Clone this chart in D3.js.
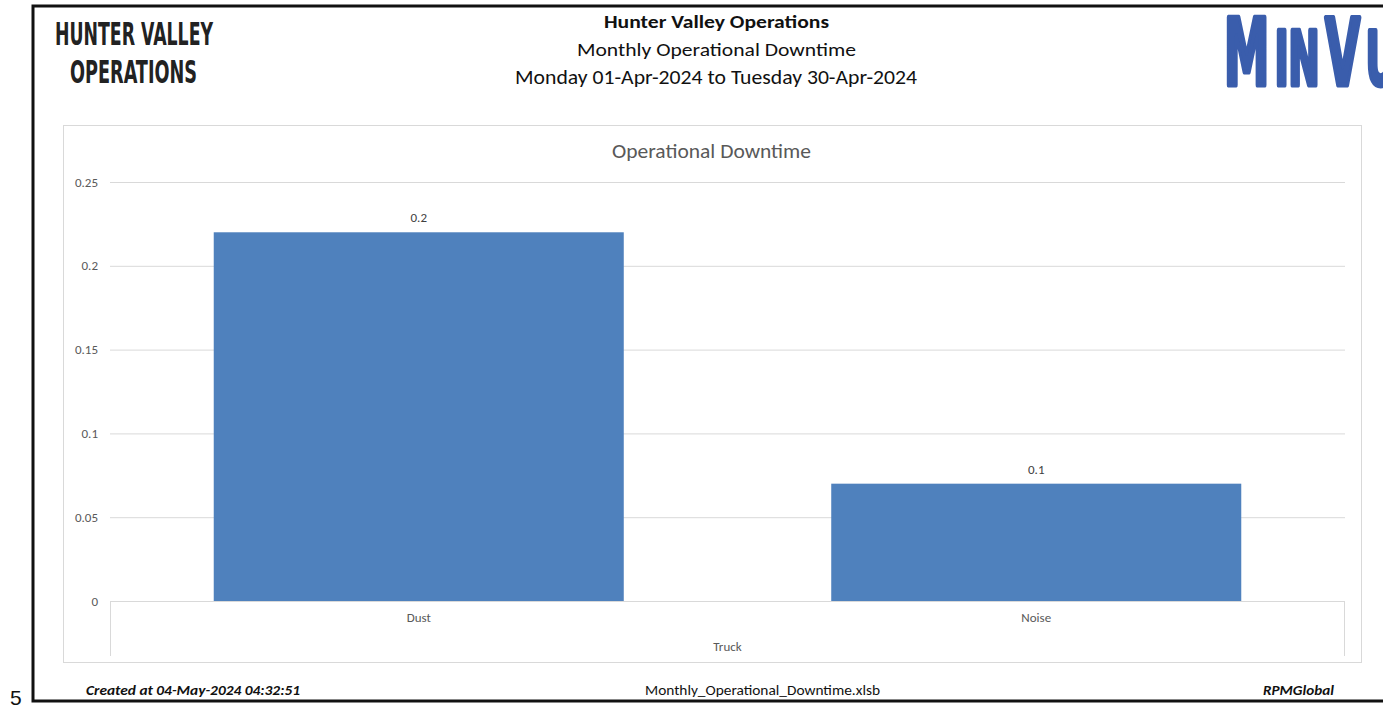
<!DOCTYPE html>
<html>
<head>
<meta charset="utf-8">
<script src="https://cdn.jsdelivr.net/npm/d3@7"></script>
<style>
  body { margin: 0; background: #fff; }
  svg { display: block; }
</style>
</head>
<body>
<div id="chart"></div>
<script>
// data
const categories = ["Dust", "Noise"];
const values = [0.22, 0.07];
const barLabels = ["0.2", "0.1"];
const groupLabel = "Truck";
const yTicks = [0, 0.05, 0.1, 0.15, 0.2, 0.25];
const yTickLabels = ["0", "0.05", "0.1", "0.15", "0.2", "0.25"];

const W = 1383, H = 706;
const font = "Carlito, Lato, 'Open Sans', sans-serif";
const narrow = "'Liberation Sans Narrow', 'DejaVu Sans Condensed', 'Liberation Sans', sans-serif";

const svg = d3.select("#chart").append("svg")
    .attr("width", W)
    .attr("height", H);

// helper: text squeezed/stretched to the width seen in the report
function fitText(parent, str, x, y, size, len) {
    return parent.append("text").text(str)
        .attr("x", x).attr("y", y)
        .attr("font-size", size)
        .attr("textLength", len)
        .attr("lengthAdjust", "spacingAndGlyphs");
}

// report frame (right side runs off the page)
svg.append("path")
    .attr("d", "M1390,6 L33,6 L33,701 L1390,701")
    .attr("fill", "none")
    .attr("stroke", "#111")
    .attr("stroke-width", 3);

svg.append("text").text("5")
    .attr("x", 10).attr("y", 705)
    .attr("font-family", "'Liberation Sans', Arial, sans-serif")
    .attr("font-size", 21).attr("fill", "#111");

// left logo text
const logo = svg.append("g")
    .attr("font-family", narrow)
    .attr("font-weight", "bold")
    .attr("fill", "#222");
fitText(logo, "HUNTER VALLEY", 55, 45, 32, 158);
fitText(logo, "OPERATIONS", 70, 83, 32, 127);

// MinVu logo: one text, squeezed horizontally, runs off the page edge
const mvG = svg.append("g");
const mv = mvG.append("text")
    .attr("x", 0).attr("y", 0)
    .attr("font-family", narrow)
    .attr("font-weight", "bold")
    .attr("fill", "#3a5dac")
    .attr("stroke", "#3a5dac")
    .attr("stroke-width", 5)
    .attr("stroke-linejoin", "round");
mv.append("tspan").text("M").attr("font-size", 92);
mv.append("tspan").text("IN").attr("font-size", 75).attr("dx", 10);
mv.append("tspan").text("V").attr("font-size", 92).attr("dx", 10);
mv.append("tspan").text("U").attr("font-size", 75).attr("dx", 10);
const mvLen = mv.node().getComputedTextLength() + 30;
mvG.attr("transform", "translate(1224,85) scale(" + (172 / mvLen) + ",1)");

// header titles
const head = svg.append("g")
    .attr("font-family", font)
    .attr("fill", "#111");
fitText(head, "Hunter Valley Operations", 604, 28, 19, 225).attr("font-weight", "bold");
fitText(head, "Monthly Operational Downtime", 577, 56, 19, 279);
fitText(head, "Monday 01-Apr-2024 to Tuesday 30-Apr-2024", 515, 84, 19.5, 402);

// chart box
svg.append("rect")
    .attr("x", 63.5).attr("y", 125.5)
    .attr("width", 1298).attr("height", 537)
    .attr("fill", "#fff")
    .attr("stroke", "#d9d9d9");

fitText(svg, "Operational Downtime", 612, 158, 20, 199)
    .attr("font-family", font)
    .attr("fill", "#595959");

// plot area
const plot = {left: 110, right: 1345, top: 182, bottom: 601};

const x = d3.scaleBand()
    .domain(categories)
    .range([plot.left, plot.right])
    .paddingInner(0.336)
    .paddingOuter(0.168);

const y = d3.scaleLinear()
    .domain([0, 0.25])
    .range([plot.bottom, plot.top]);

// gridlines + tick labels
const yAxis = d3.axisLeft(y)
    .tickValues(yTicks)
    .tickFormat((d, i) => yTickLabels[i])
    .tickSize(-(plot.right - plot.left))
    .tickPadding(12);

const gy = svg.append("g")
    .attr("transform", "translate(" + plot.left + ",0)")
    .call(yAxis);
gy.select(".domain").remove();
gy.selectAll(".tick line").attr("stroke", "#d9d9d9");
gy.selectAll(".tick text")
    .attr("font-family", font)
    .attr("font-size", 13)
    .attr("fill", "#595959");

// bars
svg.selectAll(".bar")
    .data(values).enter()
    .append("rect")
    .attr("class", "bar")
    .attr("x", (d, i) => x(categories[i]))
    .attr("y", d => y(d))
    .attr("width", x.bandwidth())
    .attr("height", d => y(0) - y(d))
    .attr("fill", "#4f81bd");

svg.selectAll(".bar-label")
    .data(values).enter()
    .append("text")
    .attr("class", "bar-label")
    .attr("x", (d, i) => x(categories[i]) + x.bandwidth() / 2)
    .attr("y", d => y(d) - 10)
    .attr("text-anchor", "middle")
    .attr("font-family", font)
    .attr("font-size", 13)
    .attr("fill", "#404040")
    .text((d, i) => barLabels[i]);

// category axis with group bracket
const xAxis = d3.axisBottom(x).tickSize(0).tickPadding(12);
const gx = svg.append("g")
    .attr("transform", "translate(0," + plot.bottom + ")")
    .call(xAxis);
gx.select(".domain").remove();
gx.selectAll(".tick text")
    .attr("font-family", font)
    .attr("font-size", 13)
    .attr("fill", "#595959");

svg.append("path")
    .attr("d", "M" + (plot.left + 0.5) + ",656 L" + (plot.left + 0.5) + "," + (plot.bottom + 0.5) +
        " L" + (plot.right - 0.5) + "," + (plot.bottom + 0.5) + " L" + (plot.right - 0.5) + ",656")
    .attr("fill", "none")
    .attr("stroke", "#d9d9d9");

svg.append("text").text(groupLabel)
    .attr("x", (plot.left + plot.right) / 2)
    .attr("y", 651)
    .attr("text-anchor", "middle")
    .attr("font-family", font)
    .attr("font-size", 13)
    .attr("fill", "#595959");

// footer
const foot = svg.append("g")
    .attr("font-family", font)
    .attr("fill", "#111");
fitText(foot, "Created at 04-May-2024 04:32:51", 86, 695, 14, 214)
    .attr("font-weight", "bold").attr("font-style", "italic");
fitText(foot, "Monthly_Operational_Downtime.xlsb", 645, 695, 15, 235);
fitText(foot, "RPMGlobal", 1263, 695, 14, 71)
    .attr("font-weight", "bold").attr("font-style", "italic");
</script>
</body>
</html>
